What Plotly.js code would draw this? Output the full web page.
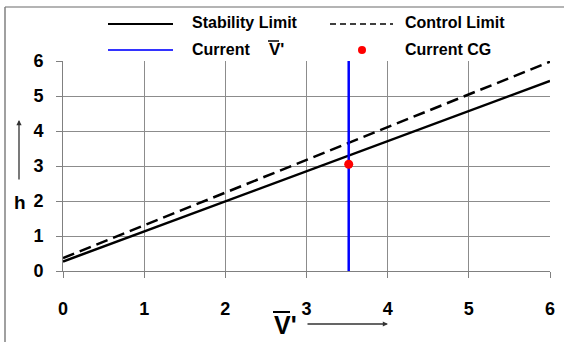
<!DOCTYPE html>
<html>
<head>
<meta charset="utf-8">
<script src="https://cdn.plot.ly/plotly-3.0.1.min.js"></script>
<style>html,body{margin:0;padding:0;background:#fff;}#chart{width:564px;height:342px;}</style>
</head>
<body>
<div id="chart"></div>
<script>
// ---- data ----
const xEnds = [0, 6];
const stabilityLimit = [0.27, 5.43];
const controlLimit = [0.37, 5.98];
const currentVx = [3.52, 3.52];
const currentVy = [0, 6];
const currentCGx = [3.52];
const currentCGy = [3.05];
const tickVals = [0, 1, 2, 3, 4, 5, 6];
const tickText = ['0', '1', '2', '3', '4', '5', '6'];
const legendNames = ['Stability Limit', 'Control Limit', 'Current', 'Current CG'];
const xLabel = "V'";
const yLabel = 'h';

const FONT = 'Liberation Sans, Arial, sans-serif';
const L = 63, R = 550, T = 61, B = 271;
const px = v => (v - L) / (R - L);
const py = v => (B - v) / (B - T);

const traces = [
  {x: xEnds, y: stabilityLimit, mode: 'lines', line: {color: '#000', width: 2.5}, name: legendNames[0], showlegend: false},
  {x: xEnds, y: controlLimit, mode: 'lines', line: {color: '#000', width: 2.5, dash: '12px,6px'}, name: legendNames[1], showlegend: false},
  {x: currentVx, y: currentVy, mode: 'lines', line: {color: '#0000ff', width: 2.5}, name: legendNames[2], showlegend: false},
  {x: currentCGx, y: currentCGy, mode: 'markers', marker: {color: '#ff0000', size: 9}, name: legendNames[3], showlegend: false, cliponaxis: false}
];

const bold = (size) => ({family: FONT, size: size, color: '#000', weight: 'bold'});
const hline = (x0, x1, y, color, w, dash) => ({type: 'line', xref: 'paper', yref: 'paper', x0: px(x0), x1: px(x1), y0: py(y), y1: py(y), line: {color: color, width: w, dash: dash || 'solid'}});

const shapes = [
  // outer frame
  hline(5, 566, 7, '#b4b4b4', 2),
  {type: 'line', xref: 'paper', yref: 'paper', x0: px(5), x1: px(5), y0: py(7), y1: py(344), line: {color: '#808080', width: 1.5}},
  // legend samples
  hline(108, 173, 24, '#000', 2),
  hline(330, 393, 24, '#000', 1.5, '6px,4px'),
  hline(108, 173, 50, '#3333ff', 2),
  {type: 'circle', xref: 'paper', yref: 'paper', x0: px(358), x1: px(366), y0: py(46), y1: py(54), fillcolor: '#ff0000', line: {width: 0}},
  // overlines of V'
  hline(268, 279, 41, '#000', 1.5),
  hline(273, 290, 312, '#000', 2)
];

const annotations = [
  {xref: 'paper', yref: 'paper', x: px(190), y: py(23), xanchor: 'left', yanchor: 'middle', text: legendNames[0], showarrow: false, font: bold(16)},
  {xref: 'paper', yref: 'paper', x: px(403), y: py(23), xanchor: 'left', yanchor: 'middle', text: legendNames[1], showarrow: false, font: bold(16)},
  {xref: 'paper', yref: 'paper', x: px(190), y: py(50), xanchor: 'left', yanchor: 'middle', text: legendNames[2], showarrow: false, font: bold(16)},
  {xref: 'paper', yref: 'paper', x: px(267), y: py(50), xanchor: 'left', yanchor: 'middle', text: xLabel, showarrow: false, font: bold(17)},
  {xref: 'paper', yref: 'paper', x: px(403), y: py(50), xanchor: 'left', yanchor: 'middle', text: legendNames[3], showarrow: false, font: bold(16)},
  // axis labels
  {xref: 'paper', yref: 'paper', x: px(20), y: py(202), xanchor: 'center', yanchor: 'middle', text: yLabel, showarrow: false, font: bold(19)},
  {xref: 'paper', yref: 'paper', x: px(272), y: py(325), xanchor: 'left', yanchor: 'middle', text: xLabel, showarrow: false, font: bold(25)},
  // arrows
  {xref: 'paper', yref: 'paper', x: px(19), y: py(120), ax: 0, ay: 61, axref: 'pixel', ayref: 'pixel', text: '', showarrow: true, arrowhead: 2, arrowsize: 0.8, arrowwidth: 1.3, arrowcolor: '#333'},
  {xref: 'paper', yref: 'paper', x: px(388), y: py(324), ax: -82, ay: 0, axref: 'pixel', ayref: 'pixel', text: '', showarrow: true, arrowhead: 2, arrowsize: 0.8, arrowwidth: 1.3, arrowcolor: '#333'}
];

const axisCommon = {
  range: [0, 6], tickvals: tickVals, ticktext: tickText,
  showgrid: true, gridcolor: '#8c8c8c', gridwidth: 1,
  showline: true, linecolor: '#808080', linewidth: 1,
  ticks: 'outside', ticklen: 6, tickcolor: '#808080', tickwidth: 1,
  zeroline: false, fixedrange: true,
  tickfont: bold(18)
};

const layout = {
  width: 564, height: 342,
  margin: {l: L, r: 564 - R, t: T, b: 342 - B, pad: 0},
  paper_bgcolor: '#fff', plot_bgcolor: '#fff',
  showlegend: false,
  xaxis: Object.assign({}, axisCommon, {ticklabelstandoff: 15}),
  yaxis: Object.assign({}, axisCommon, {ticklabelstandoff: 9}),
  shapes: shapes,
  annotations: annotations,
  font: {family: FONT}
};

Plotly.newPlot('chart', traces, layout, {displayModeBar: false, staticPlot: true});
</script>
</body>
</html>
